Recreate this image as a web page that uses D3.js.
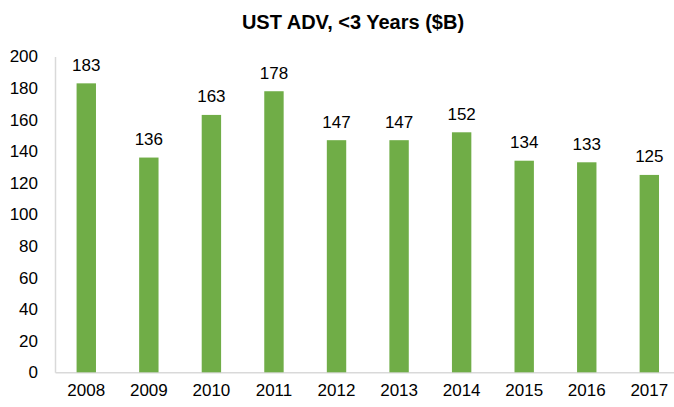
<!DOCTYPE html>
<html>
<head>
<meta charset="utf-8">
<script src="https://cdn.jsdelivr.net/npm/d3@7"></script>
<style>
  body { margin: 0; background: #fff; }
  svg text { font-family: "Liberation Sans", Arial, sans-serif; fill: #000; }
</style>
</head>
<body>
<div id="chart"></div>
<script>
var years = ["2008", "2009", "2010", "2011", "2012", "2013", "2014", "2015", "2016", "2017"];
var adv = [183, 136, 163, 178, 147, 147, 152, 134, 133, 125];
var yTicks = [0, 20, 40, 60, 80, 100, 120, 140, 160, 180, 200];

var width = 674, height = 407;

var svg = d3.select("#chart")
  .append("svg")
    .attr("width", width)
    .attr("height", height);

// title
svg.append("text")
  .attr("x", 353)
  .attr("y", 29)
  .attr("text-anchor", "middle")
  .style("font-size", "20px")
  .style("font-weight", "bold")
  .text("UST ADV, <3 Years ($B)");

var x = d3.scaleBand()
  .domain(years)
  .range([55, 680.6])
  .paddingInner(0.69)
  .paddingOuter(0.345);

var y = d3.scaleLinear()
  .domain([0, 200])
  .range([372.3, 56.5]);

// y axis
var yAxis = svg.append("g")
  .attr("transform", "translate(55,0)")
  .call(d3.axisLeft(y).tickValues(yTicks).tickSize(0).tickPadding(17));
yAxis.select(".domain").attr("stroke", "#d9d9d9").attr("stroke-width", 1.5);
yAxis.selectAll("text").style("font-size", "17px");

// x axis
var xAxis = svg.append("g")
  .attr("transform", "translate(0," + y(0) + ")")
  .call(d3.axisBottom(x).tickSize(0).tickPadding(12));
xAxis.select(".domain").attr("stroke", "#d9d9d9").attr("stroke-width", 1.5);
xAxis.selectAll("text").style("font-size", "17px");

// bars
svg.selectAll(".bar")
  .data(adv)
  .enter()
  .append("rect")
    .attr("class", "bar")
    .attr("x", function(d, i) { return x(years[i]); })
    .attr("y", function(d) { return y(d); })
    .attr("width", x.bandwidth())
    .attr("height", function(d) { return y(0) - y(d); })
    .attr("fill", "#70ad47");

// value labels
svg.selectAll(".lbl")
  .data(adv)
  .enter()
  .append("text")
    .attr("class", "lbl")
    .attr("x", function(d, i) { return x(years[i]) + x.bandwidth() / 2; })
    .attr("y", function(d) { return y(d) - 12.5; })
    .attr("text-anchor", "middle")
    .style("font-size", "17px")
    .text(function(d) { return d; });
</script>
</body>
</html>
